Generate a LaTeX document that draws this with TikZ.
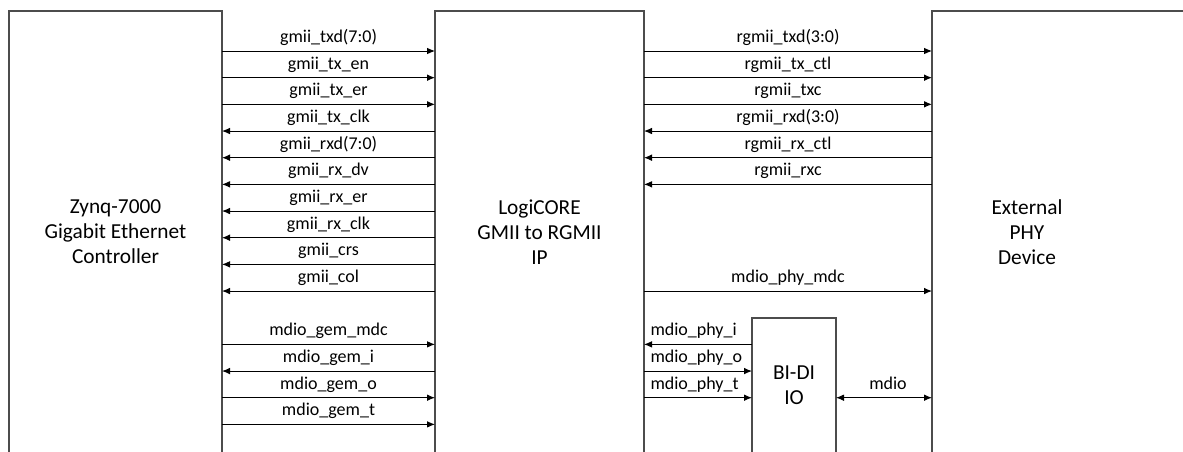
\documentclass[tikz,border=0pt]{standalone}
\usepackage{fontspec}
\setmainfont{Carlito}
\usetikzlibrary{arrows.meta, positioning, calc}

\tikzset{
    block/.style={draw=black!70, line width=0.9pt, rectangle, inner sep=0pt, outer sep=0pt,
        align=center, font=\fontsize{16}{18.75}\selectfont},
    tx/.style={-{Latex[length=6pt,width=5pt]}},
    rx/.style={{Latex[length=6pt,width=5pt]}-},
    bidir/.style={{Latex[length=6pt,width=5pt]}-{Latex[length=6pt,width=5pt]}},
    sig/.style={anchor=base, inner sep=0pt, yshift=6.5pt, font=\fontsize{13.5}{16}\selectfont},
}

\begin{document}
\begin{tikzpicture}[x=0.75pt, y=-0.75pt, line width=0.75pt]
    \useasboundingbox (0, 0) rectangle (1183, 451);
    \clip (0, 0) rectangle (1183, 451);

    % blocks (open at the bottom edge)
    \node[block, minimum width=159.75pt, minimum height=331.5pt] (zynq) at (115.5, 232)
        {Zynq-7000\\Gigabit Ethernet\\Controller};
    \node[block, minimum width=156.75pt, minimum height=331.5pt] (ip) at (539.5, 232)
        {LogiCORE\\GMII to RGMII\\IP};
    \node[block, minimum width=238.5pt, minimum height=331.5pt] (phy) at (1091, 232) {};
    \node[align=center, font=\fontsize{16}{18.75}\selectfont] (phytxt) at (1027, 232)
        {External\\PHY\\Device};
    \node[block, minimum width=63pt, minimum height=101.25pt] (bidi) at (794, 385.5)
        {BI-DI\\IO};

    % signal rows
    \foreach \k in {1,...,15}
        \coordinate (r\k) at (0, {51+26.67*(\k-1)});

    \draw
        (zynq.east |- r1) edge[tx] node[sig]{gmii\_txd(7:0)} (ip.west |- r1)
        (zynq.east |- r2) edge[tx] node[sig]{gmii\_tx\_en} (ip.west |- r2)
        (zynq.east |- r3) edge[tx] node[sig]{gmii\_tx\_er} (ip.west |- r3)
        (zynq.east |- r4) edge[rx] node[sig]{gmii\_tx\_clk} (ip.west |- r4)
        (zynq.east |- r5) edge[rx] node[sig]{gmii\_rxd(7:0)} (ip.west |- r5)
        (zynq.east |- r6) edge[rx] node[sig]{gmii\_rx\_dv} (ip.west |- r6)
        (zynq.east |- r7) edge[rx] node[sig]{gmii\_rx\_er} (ip.west |- r7)
        (zynq.east |- r8) edge[rx] node[sig]{gmii\_rx\_clk} (ip.west |- r8)
        (zynq.east |- r9) edge[rx] node[sig]{gmii\_crs} (ip.west |- r9)
        (zynq.east |- r10) edge[rx] node[sig]{gmii\_col} (ip.west |- r10)
        (zynq.east |- r12) edge[tx] node[sig]{mdio\_gem\_mdc} (ip.west |- r12)
        (zynq.east |- r13) edge[rx] node[sig]{mdio\_gem\_i} (ip.west |- r13)
        (zynq.east |- r14) edge[tx] node[sig]{mdio\_gem\_o} (ip.west |- r14)
        (zynq.east |- r15) edge[tx] node[sig]{mdio\_gem\_t} (ip.west |- r15)
        ;

    \draw
        (ip.east |- r1) edge[tx] node[sig]{rgmii\_txd(3:0)} (phy.west |- r1)
        (ip.east |- r2) edge[tx] node[sig]{rgmii\_tx\_ctl} (phy.west |- r2)
        (ip.east |- r3) edge[tx] node[sig]{rgmii\_txc} (phy.west |- r3)
        (ip.east |- r4) edge[rx] node[sig]{rgmii\_rxd(3:0)} (phy.west |- r4)
        (ip.east |- r5) edge[rx] node[sig]{rgmii\_rx\_ctl} (phy.west |- r5)
        (ip.east |- r6) edge[rx] node[sig]{rgmii\_rxc} (phy.west |- r6)
        (ip.east |- r10) edge[tx] node[sig]{mdio\_phy\_mdc} (phy.west |- r10)
        (ip.east |- r12) edge[rx] node[sig, pos=0, anchor=base west, xshift=4.5pt]{mdio\_phy\_i} (bidi.west |- r12)
        (ip.east |- r13) edge[tx] node[sig, pos=0, anchor=base west, xshift=4.5pt]{mdio\_phy\_o} (bidi.west |- r13)
        (ip.east |- r14) edge[tx] node[sig, pos=0, anchor=base west, xshift=4.5pt]{mdio\_phy\_t} (bidi.west |- r14)
        (bidi.east |- r14) edge[bidir] node[sig, xshift=3pt]{mdio} (phy.west |- r14)
        ;
\end{tikzpicture}
\end{document}
